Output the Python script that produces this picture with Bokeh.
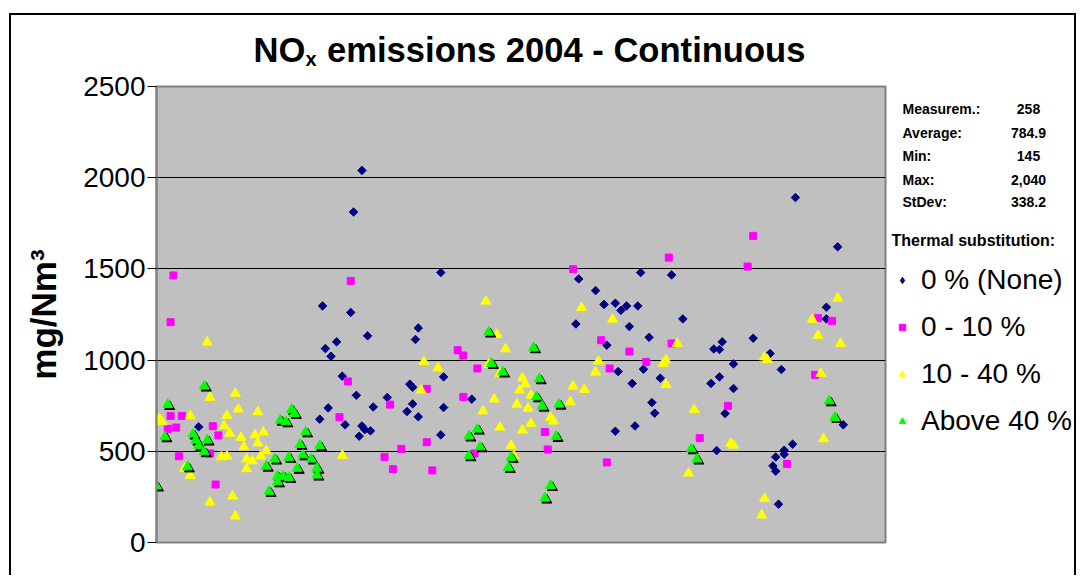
import math
from bokeh.plotting import figure
from bokeh.models import Range1d, FixedTicker, Legend, LegendItem
from bokeh.layouts import column, row
from bokeh.transform import dodge
from bokeh.core.properties import value
from bokeh.embed import file_html
from bokeh.resources import INLINE

# ---------------- data ----------------
none_x = [15, 73, 70, 101, 59, 69, 93, 75, 92, 64, 60, 62, 102, 66, 90, 91, 71, 82, 77, 91,
          61, 89, 93, 58, 67, 73, 74, 76, 72, 101, 102, 112, 150, 149, 172, 183, 156, 159, 163, 165,
          167, 171, 168, 187, 175, 160, 201, 198, 200, 164, 173, 205, 179, 200, 169, 197, 205, 176, 177, 202,
          170, 163, 199, 227, 242, 238, 238, 212, 218, 222, 244, 226, 223, 223, 220, 219, 220, 221]
none_y = [634, 2040, 1812, 1480, 1297, 1261, 1176, 1133, 1113, 1100, 1063, 1021, 908, 912, 868, 851, 807, 795, 743, 760,
          738, 718, 689, 676, 645, 639, 619, 612, 583, 590, 740, 786, 1445, 1198, 1480, 1467, 1381, 1305, 1312, 1273,
          1297, 1297, 1184, 1226, 1125, 1082, 1100, 1061, 1058, 937, 950, 979, 901, 908, 872, 872, 844, 767, 709, 707,
          639, 610, 504, 1891, 1621, 1290, 1226, 1120, 1036, 948, 645, 539, 506, 484, 469, 420, 391, 210]

low_x = [6, 5, 5, 9, 4, 7, 20, 22, 19, 8, 21, 69, 68, 96, 83, 65, 96, 87, 81, 84, 98,
         148, 107, 109, 114, 109, 138, 139, 113, 182, 158, 168, 183, 174, 161, 203, 193, 160,
         212, 210, 235, 240, 234, 224]
low_y = [1464, 1208, 694, 694, 623, 630, 638, 587, 488, 473, 318, 1434, 883, 842, 756, 687, 550, 513, 468, 402, 395,
         1498, 1054, 1025, 954, 798, 606, 510, 488, 1562, 1109, 1047, 1091, 990, 954, 749, 572, 439,
         1681, 1513, 1230, 1215, 919, 431]

mid_x = [18, 19, 28, 29, 36, 12, 25, 1, 2, 24, 26, 30, 31, 35, 38, 36, 39, 37, 23, 25, 32, 34, 32, 10, 12, 19, 27, 28,
         95, 100, 94, 66, 117, 151, 121, 124, 118, 122, 130, 131, 148, 152, 129, 133, 120, 128, 132, 147, 116, 140, 141,
         133, 122, 130, 126, 127, 162, 185, 157, 181, 180, 156, 181, 191, 204, 205, 189,
         242, 233, 235, 243, 216, 217, 236, 237, 216, 215]
mid_y = [1098, 795, 817, 731, 716, 694, 696, 678, 661, 639, 598, 576, 524, 590, 605, 546, 502, 473, 469, 473, 458, 447, 404, 407, 367, 221, 254, 145,
         992, 957, 835, 477, 1323, 1288, 1140, 1061, 977, 926, 901, 868, 857, 839, 835, 807, 786, 758, 736, 771, 721, 685, 665,
         652, 632, 616, 532, 475, 1224, 1091, 994, 999, 981, 934, 866, 729, 543, 533, 380,
         1339, 1222, 1135, 1091, 1017, 1003, 926, 568, 241, 150]

high_x = [17, 4, 3, 13, 14, 18, 15, 17, 11, 0, 40, 42, 47, 39, 43, 43, 45, 47, 50, 51, 44, 46, 48, 49, 53, 58, 52, 55, 57, 57,
          118, 134, 119, 123, 136, 135, 137, 143, 114, 111, 142, 115, 111, 126, 125, 140, 138, 190, 192, 239, 241]
high_y = [857, 756, 579, 594, 561, 561, 530, 497, 414, 309, 280, 457, 466, 418, 363, 332, 363, 356, 406, 537, 670, 661, 729, 707, 606, 530, 480, 457, 407, 369,
          1153, 1067, 981, 934, 897, 798, 747, 758, 621, 583, 581, 524, 475, 466, 411, 312, 243, 513, 457, 776, 685]

series_names = ["0 % (None)", "0 - 10 %", "10 - 40 %", "Above 40 %"]
stat_names = ["Measurem.:", "Average:", "Min:", "Max:", "StDev:"]
stat_values = ["258", "784.9", "145", "2,040", "338.2"]
y_ticks = [0, 500, 1000, 1500, 2000, 2500]
title_parts = ["NO", "x", "emissions 2004 - Continuous"]
legend_title = "Thermal substitution:"

COLORS = ["#000080", "#FF00FF", "#FFFF00", "#00FF00"]
FONT = "Liberation Sans"

# ---------------- page geometry (px) ----------------
OX, OY = 11, 15                 # top-left of the drawing on the page
TOTAL_W = 1063
TITLE_H = 56
MAIN_W, MAIN_H = 876, 504
FR_L, FR_R, FR_T, FR_B = 156, 885, 86, 542   # plot area on the page


def blank_fig(w, h, x0, y0):
    f = figure(width=w, height=h, output_backend="svg", toolbar_location=None, title=None,
               x_range=Range1d(x0, x0 + w), y_range=Range1d(y0 + h, y0),
               x_axis_location=None, y_axis_location=None,
               min_border_left=0, min_border_right=0, min_border_top=0, min_border_bottom=0)
    f.grid.visible = False
    f.outline_line_color = None
    f.background_fill_color = "white"
    f.border_fill_color = "white"
    return f


# ---------------- title strip ----------------
t = blank_fig(TOTAL_W, TITLE_H, OX, OY)
TS = 34.6
t.text(x=[253], y=[49], text=[title_parts[0]], text_font=value(FONT), text_font_size=f"{TS}px",
       text_font_style="bold", text_baseline="middle", text_align="left", text_color="black")
t.text(x=[253 + 1.5 * TS], y=[58], text=[title_parts[1]], text_font=value(FONT), text_font_size="20px",
       text_font_style="bold", text_baseline="middle", text_align="left", text_color="black")
t.text(x=[253 + 1.5 * TS + 12 + 0.278 * TS], y=[49], text=[title_parts[2]], text_font=value(FONT),
       text_font_size=f"{TS}px", text_font_style="bold", text_baseline="middle",
       text_align="left", text_color="black")

# ---------------- main plot ----------------
main_top = OY + TITLE_H
p = figure(width=MAIN_W, height=MAIN_H, output_backend="svg", toolbar_location=None, title=None,
           x_range=Range1d(0, 259), y_range=Range1d(0, 2500), x_axis_location=None,
           min_border_left=FR_L - OX, min_border_right=MAIN_W - (FR_R - OX),
           min_border_top=FR_T - main_top, min_border_bottom=main_top + MAIN_H - FR_B)
p.background_fill_color = "#C0C0C0"
p.border_fill_color = "white"
p.outline_line_color = "#808080"
p.outline_line_width = 2
p.xgrid.visible = False
p.ygrid.ticker = FixedTicker(ticks=[v for v in y_ticks if 0 < v < 2500])
p.ygrid.grid_line_color = "black"
p.ygrid.grid_line_width = 1

ax = p.yaxis[0]
ax.ticker = FixedTicker(ticks=y_ticks)
ax.axis_line_color = "#808080"
ax.axis_line_width = 2
ax.major_tick_line_color = "black"
ax.major_tick_out = 9
ax.major_tick_in = 0
ax.minor_tick_line_color = None
ax.major_label_text_font = FONT
ax.major_label_text_font_size = "28px"
ax.major_label_text_color = "black"
ax.major_label_standoff = 2
ax.axis_label = "mg/Nm\u00b3"
ax.axis_label_text_font = FONT
ax.axis_label_text_font_size = "35px"
ax.axis_label_text_font_style = "bold"
ax.axis_label_text_color = "black"
ax.axis_label_standoff = 17

p.scatter(none_x, none_y, marker="square", angle=math.pi / 4, size=6,
          fill_color=COLORS[0], line_color=COLORS[0])
p.scatter(low_x, low_y, marker="square", size=7, fill_color=COLORS[1], line_color=COLORS[1])
p.scatter(mid_x, mid_y, marker="triangle", size=10, fill_color=COLORS[2], line_color=COLORS[2])
p.scatter(x=dodge("x", 0.7), y=dodge("y", -11), source={"x": high_x, "y": high_y},
          marker="triangle", size=10, fill_color="black", line_color="black")
p.scatter(x="x", y="y", source={"x": high_x, "y": high_y}, marker="triangle", size=10,
          fill_color=COLORS[3], line_color=COLORS[3])

# ---------------- right strip: statistics and legend ----------------
RX = OX + MAIN_W
r = blank_fig(TOTAL_W - MAIN_W, MAIN_H, RX, main_top)
row_py = [96, 122, 148, 174, 199]
r.text(x=[902] * len(stat_names), y=row_py, text=stat_names, text_font=value(FONT),
       text_font_size="14px", text_font_style="bold", text_baseline="middle", text_align="left",
       text_color="black")
r.text(x=[1028] * len(stat_values), y=row_py, text=stat_values, text_font=value(FONT),
       text_font_size="14px", text_font_style="bold", text_baseline="middle", text_align="center",
       text_color="black")
r.text(x=[891], y=[241], text=[legend_title], text_font=value(FONT), text_font_size="16px",
       text_font_style="bold", text_baseline="middle", text_align="left", text_color="black")

leg_r = [
    r.scatter(none_x, none_y, marker="diamond", size=9, fill_color=COLORS[0], line_color=COLORS[0], visible=False),
    r.scatter(low_x, low_y, marker="square", size=7, fill_color=COLORS[1], line_color=COLORS[1], visible=False),
    r.scatter(mid_x, mid_y, marker="triangle", size=10, fill_color=COLORS[2], line_color=COLORS[2], visible=False),
    r.scatter(high_x, high_y, marker="triangle", size=10, fill_color=COLORS[3], line_color=COLORS[3], visible=False),
]
legend = Legend(items=[LegendItem(label=n, renderers=[g]) for n, g in zip(series_names, leg_r)],
                location=(894 - RX, main_top + MAIN_H - 438 - 32), padding=0, margin=0, spacing=15,
                glyph_width=16, glyph_height=16, label_standoff=11, label_height=30,
                border_line_color=None, background_fill_alpha=0,
                label_text_font=FONT, label_text_font_size="28px", label_text_color="black")
r.add_layout(legend)

layout = column(t, row(p, r), styles={"border-left": "2px solid black", "border-top": "2px solid black",
                                      "border-right": "2px solid black", "margin-left": "9px",
                                      "margin-top": "13px"})

open("out.html", "w").write(file_html(layout, INLINE))
